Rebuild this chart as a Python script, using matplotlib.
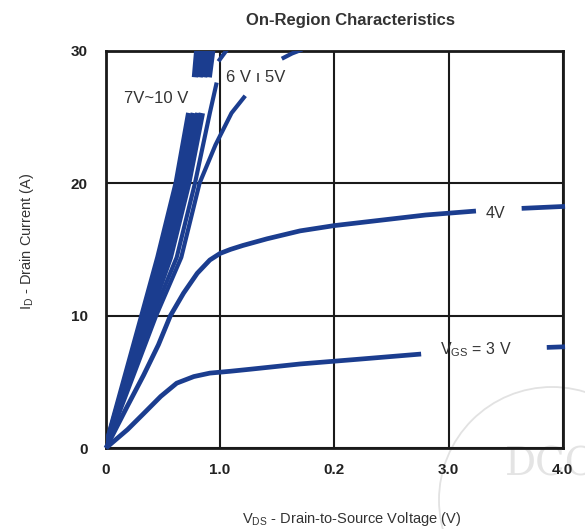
import numpy as np
import matplotlib
matplotlib.use("Agg")
import matplotlib.pyplot as plt
from matplotlib.patches import Ellipse

plt.rcParams['font.family'] = ['Liberation Sans', 'DejaVu Sans']

nan = np.nan

# VDS (V) / ID (A); nan marks where a label interrupts a curve
band_id = [0, 10, 14.4, 20, 25.3, nan, 28, 30, 31]
vds_10v = [0, 0.32, 0.46, 0.62, 0.73, nan, 0.78, 0.80, 0.82]
vds_9v = [0, 0.34, 0.49, 0.66, 0.77, nan, 0.82, 0.85, 0.87]
vds_8v = [0, 0.36, 0.52, 0.69, 0.81, nan, 0.86, 0.89, 0.91]
vds_7v = [0, 0.38, 0.56, 0.72, 0.84, nan, 0.90, 0.93, 0.95]

vds_6v = [0, 0.41, 0.62, 0.78, 0.91, 0.97, nan, 0.985, 1.07]
id_6v = [0, 10, 14.4, 20, 25.3, 27.6, nan, 29.2, 30.2]

vds_5v = [0, 0.44, 0.66, 0.82, 0.96, 1.10, 1.22, nan, 1.54, 1.63, 1.72]
id_5v = [0, 10, 14.4, 20, 22.9, 25.3, 26.6, nan, 29.4, 29.8, 30.1]

vds_4v = [0, 0.19, 0.33, 0.46, 0.565, 0.68, 0.80, 0.91, 1.0, 1.09, 1.2, 1.41,
          1.70, 2.0, 2.5, 2.8, 3.24, nan, 3.64, 4.02]
id_4v = [0, 3.2, 5.5, 7.8, 10, 11.7, 13.2, 14.2, 14.7, 15.0, 15.3, 15.8,
         16.4, 16.8, 17.3, 17.6, 17.9, nan, 18.1, 18.25]

vds_3v = [0, 0.19, 0.33, 0.48, 0.62, 0.77, 0.91, 1.09, 1.26, 1.7, 2.2, 2.76,
          nan, 3.86, 4.02]
id_3v = [0, 1.4, 2.6, 3.9, 4.9, 5.4, 5.66, 5.8, 5.95, 6.35, 6.7, 7.1,
         nan, 7.6, 7.65]

x_ticks = [0, 1, 2, 3, 4]
x_ticklabels = ['0', '1.0', '0.2', '3.0', '4.0']
y_ticks = [0, 10, 20, 30]

curve_color = '#1b3d8f'
text_color = '#333333'

fig = plt.figure(figsize=(5.85, 5.29), dpi=100)
ax = fig.add_axes([0.181, 0.153, 0.781, 0.751])
ax.patch.set_alpha(0)  # let the faint watermark show through

# 7V~10V band
for vx in [vds_10v, vds_9v, vds_8v, vds_7v]:
    ax.plot(vx, band_id, color=curve_color, lw=4.6, solid_capstyle='butt',
            solid_joinstyle='round', zorder=3)

for vx, iy in [(vds_6v, id_6v), (vds_5v, id_5v)]:
    ax.plot(vx, iy, color=curve_color, lw=3.0, solid_capstyle='butt',
            solid_joinstyle='round', zorder=3)

for vx, iy in [(vds_4v, id_4v), (vds_3v, id_3v)]:
    ax.plot(vx, iy, color=curve_color, lw=3.4, solid_capstyle='butt',
            solid_joinstyle='round', zorder=3, clip_on=False)

ax.set_xlim(0, 4)
ax.set_ylim(0, 30)
ax.set_xticks(x_ticks)
ax.set_xticklabels(x_ticklabels)
ax.set_yticks(y_ticks)
ax.grid(True, color='#1a1a1a', lw=1.5)
ax.set_axisbelow(True)
for s in ax.spines.values():
    s.set_linewidth(2.0)
    s.set_color('#1a1a1a')
ax.tick_params(length=0, labelsize=11, labelcolor='#222222')
ax.tick_params(axis='y', pad=13)
ax.tick_params(axis='x', pad=11)
for lab in ax.get_xticklabels() + ax.get_yticklabels():
    lab.set_fontweight('bold')

ax.set_xlabel(r'V$_{\mathregular{DS}}$ - Drain-to-Source Voltage (V)',
              fontsize=10.5, color=text_color)
ax.xaxis.set_label_coords(0.538, -0.155)
ax.set_ylabel(r'I$_{\mathregular{D}}$ - Drain Current (A)',
              fontsize=10.5, color=text_color)
ax.yaxis.set_label_coords(-0.152, 0.52)

fig.text(0.600, 0.962, 'On-Region Characteristics', ha='center', va='center',
         fontsize=12, fontweight='bold', color=text_color)

# curve labels
ax.text(0.44, 26.4, '7V~10 V', fontsize=12, color=text_color, ha='center', va='center')
ax.text(1.31, 28.0, '6 V ı 5V', fontsize=12, color=text_color, ha='center', va='center')
ax.text(3.41, 17.7, '4V', fontsize=11.5, color=text_color, ha='center', va='center')
ax.text(3.24, 7.4, r'V$_{\mathregular{GS}}$ = 3 V', fontsize=11.5, color=text_color,
        ha='center', va='center')

# faint watermark in the corner, behind everything
fig.patches.append(Ellipse((552 / 585, 1 - 500 / 529), 226 / 585, 226 / 529,
                           transform=fig.transFigure, fill=False,
                           edgecolor='#e2e2e2', lw=1.3, zorder=-2))
fig.text(505 / 585, 1 - 476 / 529, 'DCC', fontsize=28, family='DejaVu Serif',
         color='#e4e4e4', ha='left', va='baseline', zorder=-2)

fig.savefig('out.png', dpi=100)
